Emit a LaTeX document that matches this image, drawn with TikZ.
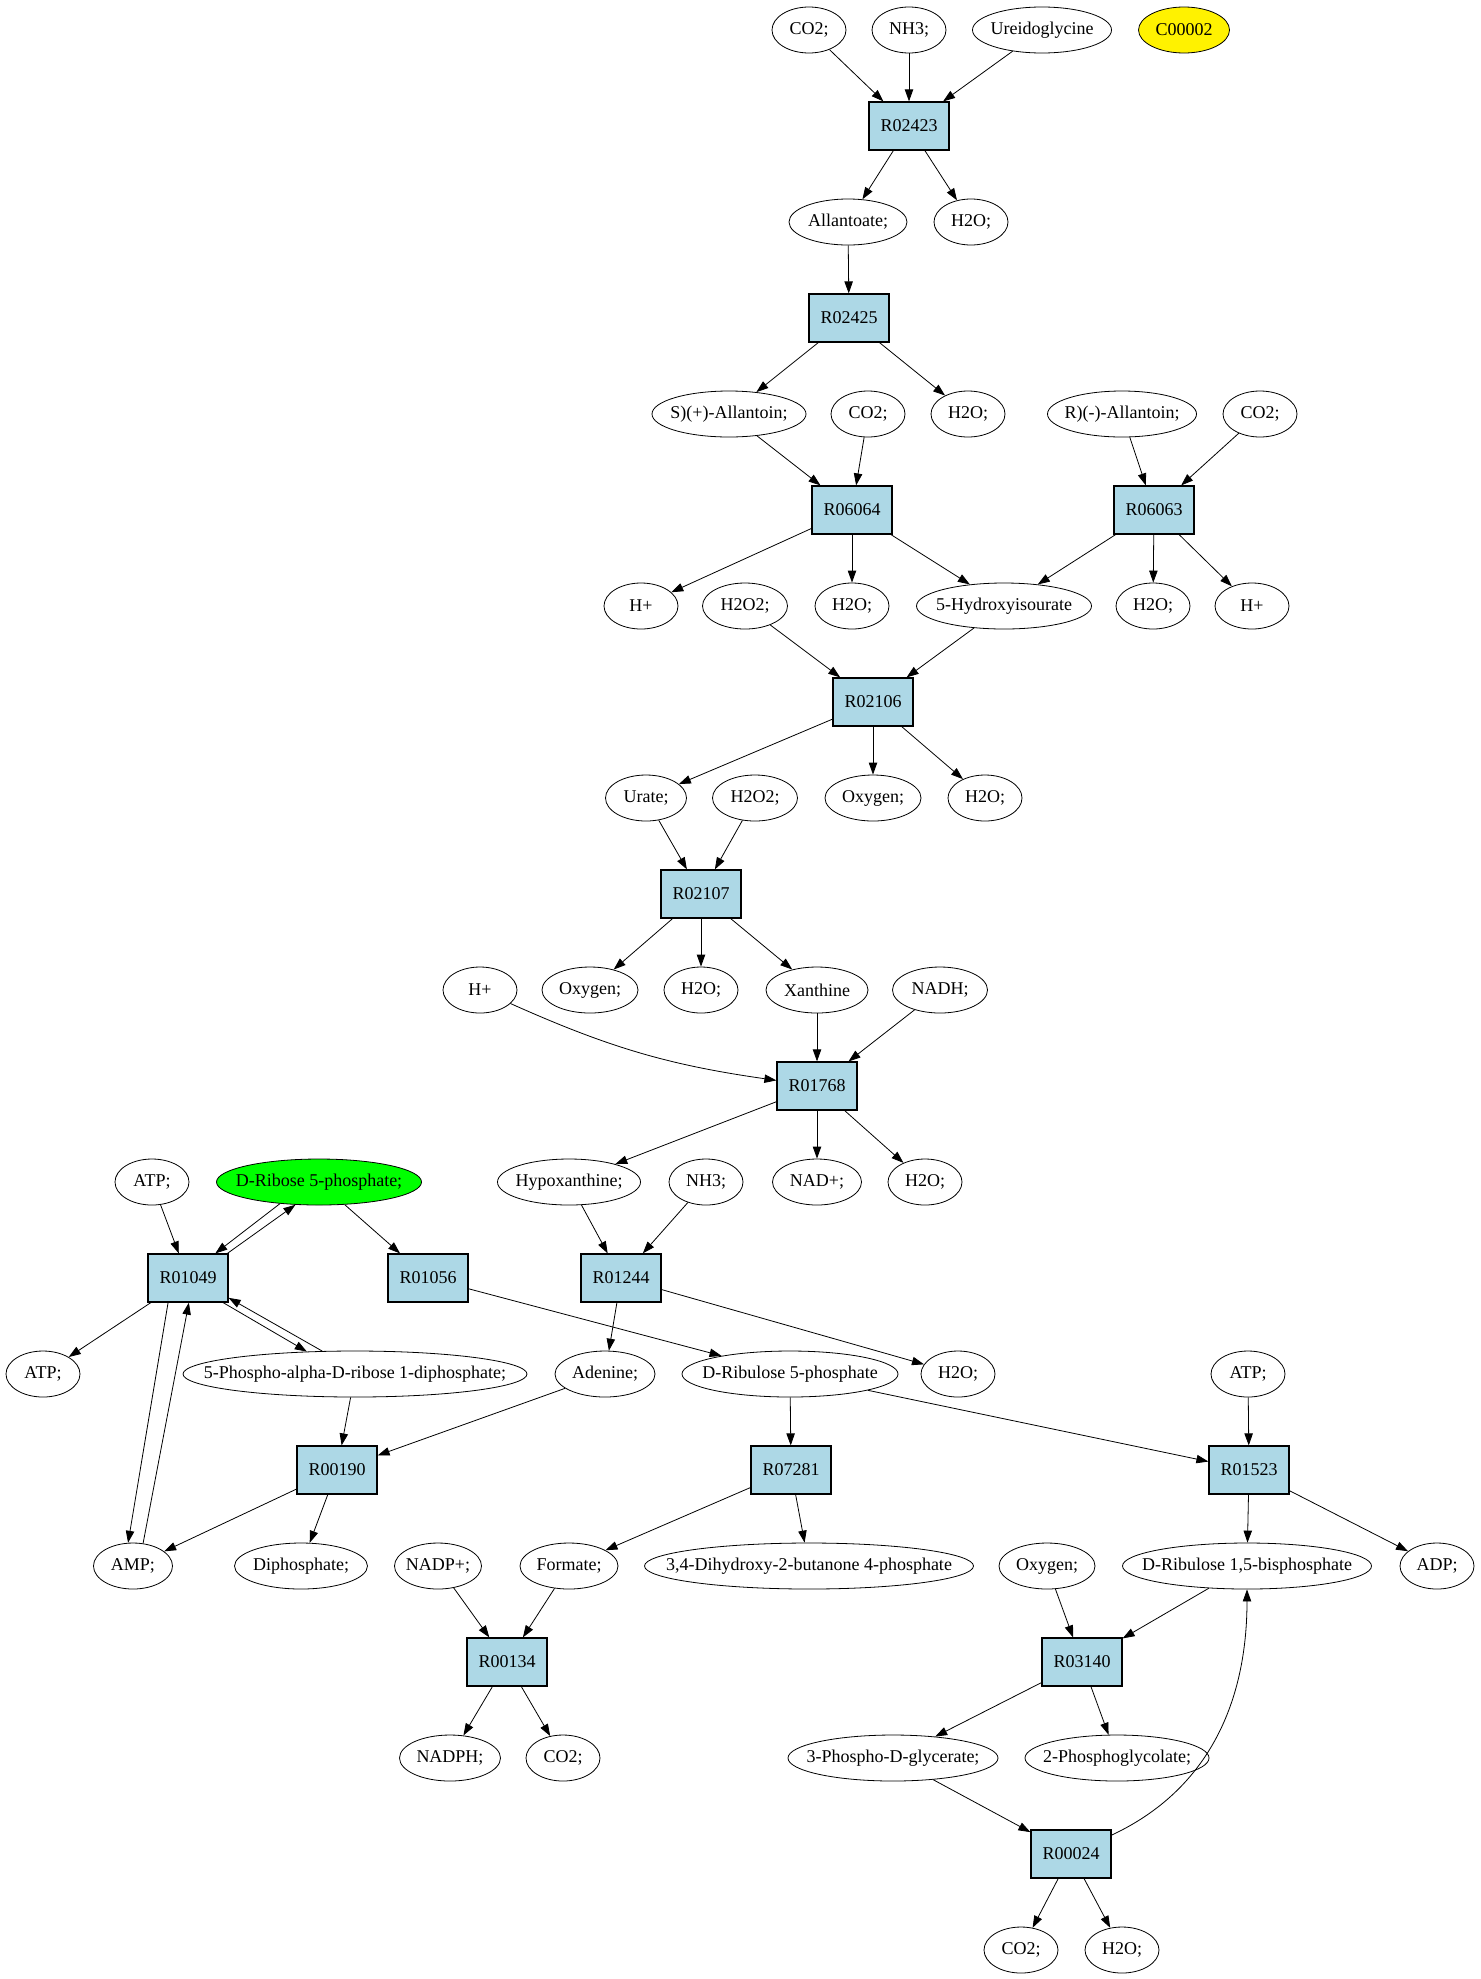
\documentclass[tikz,border=0pt]{standalone}
\usepackage{fontspec}
\setmainfont{Liberation Serif}
\usetikzlibrary{shapes.geometric,arrows.meta}
\definecolor{lightblue}{HTML}{ADD8E6}
\begin{document}
\begin{tikzpicture}[x=0.5pt,y=-48pt,
  rxn/.style={rectangle, draw, fill=lightblue, line width=0.6pt, minimum width=40pt, minimum height=24pt, inner sep=0pt, font=\fontsize{9}{10}\selectfont},
  met/.style={ellipse, draw, line width=0.4pt, inner sep=0pt, minimum width=37pt, minimum height=23pt, font=\fontsize{9}{10}\selectfont},
  arr/.style={line width=0.4pt, -{Triangle[length=6pt,width=4.2pt]}}]
\useasboundingbox (0,-0.3125) rectangle (1480,20.302);

% Draw the top of the pathway
\node[met] (co2a) at (809,0) {\makebox[0pt]{CO2;}};
\node[met] (nh3a) at (909,0) {\makebox[0pt]{NH3;}};
\node[met, minimum width=69.5pt] (ureido) at (1042,0) {\makebox[0pt]{Ureidoglycine}};
\node[met, minimum width=45.5pt, fill=yellow] (c00002) at (1184,0) {\makebox[0pt]{C00002}};
\node[rxn] (r02423) at (909,1) {R02423};
\node[met, minimum width=59pt] (allantoate) at (848,2) {\makebox[0pt]{Allantoate;}};
\node[met] (h2oa) at (971,2) {\makebox[0pt]{H2O;}};
\node[rxn] (r02425) at (849,3) {R02425};
\node[met, minimum width=77pt] (sallan) at (729,4) {\makebox[0pt]{S)(+)-Allantoin;}};
\node[met] (co2b) at (868,4) {\makebox[0pt]{CO2;}};
\node[met] (h2ob) at (968,4) {\makebox[0pt]{H2O;}};
\node[met, minimum width=74.5pt] (rallan) at (1122,4) {\makebox[0pt]{R)(-)-Allantoin;}};
\node[met] (co2c) at (1260,4) {\makebox[0pt]{CO2;}};
\node[rxn] (r06064) at (852,5) {R06064};
\node[rxn] (r06063) at (1154,5) {R06063};
\node[met] (hpa) at (641,6) {\makebox[0pt]{H+}};
\node[met, minimum width=42.5pt] (h2o2a) at (745,6) {\makebox[0pt]{H2O2;}};
\node[met] (h2oc) at (852,6) {\makebox[0pt]{H2O;}};
\node[met, minimum width=87.5pt] (hiu) at (1004,6) {\makebox[0pt]{5-Hydroxyisourate}};
\node[met] (h2od) at (1153,6) {\makebox[0pt]{H2O;}};
\node[met] (hpb) at (1252,6) {\makebox[0pt]{H+}};

% Draw the urate part
\node[rxn] (r02106) at (873,7) {R02106};
\node[met, minimum width=40.5pt] (urate) at (646,8) {\makebox[0pt]{Urate;}};
\node[met, minimum width=42.5pt] (h2o2b) at (755,8) {\makebox[0pt]{H2O2;}};
\node[met, minimum width=48pt] (oxya) at (873,8) {\makebox[0pt]{Oxygen;}};
\node[met] (h2oe) at (985,8) {\makebox[0pt]{H2O;}};
\node[rxn] (r02107) at (701,9) {R02107};
\node[met] (hpc) at (480,10) {\makebox[0pt]{H+}};
\node[met, minimum width=48pt] (oxyb) at (590,10) {\makebox[0pt]{Oxygen;}};
\node[met] (h2of) at (701,10) {\makebox[0pt]{H2O;}};
\node[met, minimum width=51pt] (xan) at (817,10) {\makebox[0pt]{Xanthine}};
\node[met, minimum width=47.5pt] (nadh) at (940,10) {\makebox[0pt]{NADH;}};
\node[rxn] (r01768) at (817,11) {R01768};

% Draw the ribose part
\node[met] (atpa) at (152,12) {\makebox[0pt]{ATP;}};
\node[met, minimum width=102.5pt, fill=green] (dribose) at (319,12) {\makebox[0pt]{D-Ribose 5-phosphate;}};
\node[met, minimum width=71.5pt] (hypo) at (569,12) {\makebox[0pt]{Hypoxanthine;}};
\node[met] (nh3b) at (706,12) {\makebox[0pt]{NH3;}};
\node[met, minimum width=44.5pt] (nad) at (817,12) {\makebox[0pt]{NAD+;}};
\node[met] (h2og) at (925,12) {\makebox[0pt]{H2O;}};
\node[rxn] (r01049) at (188,13) {R01049};
\node[rxn] (r01056) at (428,13) {R01056};
\node[rxn] (r01244) at (621,13) {R01244};
\node[met] (atpb) at (43,14) {\makebox[0pt]{ATP;}};
\node[met, minimum width=172pt] (prpp) at (355,14) {\makebox[0pt]{5-Phospho-alpha-D-ribose 1-diphosphate;}};
\node[met, minimum width=50pt] (adenine) at (605,14) {\makebox[0pt]{Adenine;}};
\node[met, minimum width=108pt] (dru5p) at (790,14) {\makebox[0pt]{D-Ribulose 5-phosphate}};
\node[met] (h2oh) at (958,14) {\makebox[0pt]{H2O;}};
\node[met] (atpc) at (1248,14) {\makebox[0pt]{ATP;}};
\node[rxn] (r00190) at (337,15) {R00190};
\node[rxn] (r07281) at (791,15) {R07281};
\node[rxn] (r01523) at (1249,15) {R01523};
\node[met, minimum width=39.5pt] (amp) at (133,16) {\makebox[0pt]{AMP;}};
\node[met, minimum width=66.5pt] (diph) at (301,16) {\makebox[0pt]{Diphosphate;}};
\node[met, minimum width=43.5pt] (nadpp) at (438,16) {\makebox[0pt]{NADP+;}};
\node[met, minimum width=49pt] (formate) at (569,16) {\makebox[0pt]{Formate;}};
\node[met, minimum width=164.5pt] (dhbp) at (809,16) {\makebox[0pt]{3,4-Dihydroxy-2-butanone 4-phosphate}};
\node[met, minimum width=48pt] (oxyc) at (1047,16) {\makebox[0pt]{Oxygen;}};
\node[met, minimum width=124.5pt] (rubp) at (1247,16) {\makebox[0pt]{D-Ribulose 1,5-bisphosphate}};
\node[met] (adp) at (1437,16) {\makebox[0pt]{ADP;}};
\node[rxn] (r00134) at (507,17) {R00134};
\node[rxn] (r03140) at (1082,17) {R03140};
\node[met, minimum width=50.5pt] (nadph) at (450,18) {\makebox[0pt]{NADPH;}};
\node[met] (co2d) at (563,18) {\makebox[0pt]{CO2;}};
\node[met, minimum width=105pt] (pga) at (893,18) {\makebox[0pt]{3-Phospho-D-glycerate;}};
\node[met, minimum width=92pt] (pglyc) at (1117,18) {\makebox[0pt]{2-Phosphoglycolate;}};
\node[rxn] (r00024) at (1071,19) {R00024};
\node[met] (co2e) at (1021,20) {\makebox[0pt]{CO2;}};
\node[met] (h2oi) at (1122,20) {\makebox[0pt]{H2O;}};

% Draw the arrows
\draw[arr] (co2a) -- (r02423);
\draw[arr] (nh3a) -- (r02423);
\draw[arr] (ureido) -- (r02423);
\draw[arr] (r02423) -- (allantoate);
\draw[arr] (r02423) -- (h2oa);
\draw[arr] (allantoate) -- (r02425);
\draw[arr] (r02425) -- (sallan);
\draw[arr] (r02425) -- (h2ob);
\draw[arr] (sallan) -- (r06064);
\draw[arr] (co2b) -- (r06064);
\draw[arr] (rallan) -- (r06063);
\draw[arr] (co2c) -- (r06063);
\draw[arr] (r06064) -- (hpa);
\draw[arr] (r06064) -- (h2oc);
\draw[arr] (r06064) -- (hiu);
\draw[arr] (r06063) -- (hiu);
\draw[arr] (r06063) -- (h2od);
\draw[arr] (r06063) -- (hpb);
\draw[arr] (h2o2a) -- (r02106);
\draw[arr] (hiu) -- (r02106);
\draw[arr] (r02106) -- (urate);
\draw[arr] (r02106) -- (oxya);
\draw[arr] (r02106) -- (h2oe);
\draw[arr] (urate) -- (r02107);
\draw[arr] (h2o2b) -- (r02107);
\draw[arr] (r02107) -- (oxyb);
\draw[arr] (r02107) -- (h2of);
\draw[arr] (r02107) -- (xan);
\draw[arr] (hpc) to[bend right=8] (r01768);
\draw[arr] (xan) -- (r01768);
\draw[arr] (nadh) -- (r01768);
\draw[arr] (r01768) -- (hypo);
\draw[arr] (r01768) -- (nad);
\draw[arr] (r01768) -- (h2og);
\draw[arr] (hypo) -- (r01244);
\draw[arr] (nh3b) -- (r01244);
\draw[arr] (atpa) -- (r01049);
\draw[arr] (dribose.209) -- (r01049.42);
\draw[arr] (r01049.32) -- (dribose.224);
\draw[arr] (dribose) -- (r01056);
\draw[arr] (r01049) -- (atpb);
\draw[arr] (r01049.-129) -- (amp.102);
\draw[arr] (amp.66) -- (r01049.-88);
\draw[arr] (r01049.-35) -- (prpp.155);
\draw[arr] (prpp.145) -- (r01049.-26);
\draw[arr] (r01056) -- (dru5p);
\draw[arr] (r01244) -- (adenine);
\draw[arr] (r01244) -- (h2oh);
\draw[arr] (prpp) -- (r00190);
\draw[arr] (adenine) -- (r00190);
\draw[arr] (r00190) -- (amp);
\draw[arr] (r00190) -- (diph);
\draw[arr] (dru5p) -- (r07281);
\draw[arr] (dru5p) -- (r01523);
\draw[arr] (atpc) -- (r01523);
\draw[arr] (r07281) -- (formate);
\draw[arr] (r07281) -- (dhbp);
\draw[arr] (r01523) -- (rubp);
\draw[arr] (r01523) -- (adp);
\draw[arr] (nadpp) -- (r00134);
\draw[arr] (formate) -- (r00134);
\draw[arr] (r00134) -- (nadph);
\draw[arr] (r00134) -- (co2d);
\draw[arr] (oxyc) -- (r03140);
\draw[arr] (rubp) -- (r03140);
\draw[arr] (r03140) -- (pga);
\draw[arr] (r03140) -- (pglyc);
\draw[arr] (pga) -- (r00024);
\draw[arr] (r00024) to[out=25,in=-90] (rubp);
\draw[arr] (r00024) -- (co2e);
\draw[arr] (r00024) -- (h2oi);
\end{tikzpicture}
\end{document}
